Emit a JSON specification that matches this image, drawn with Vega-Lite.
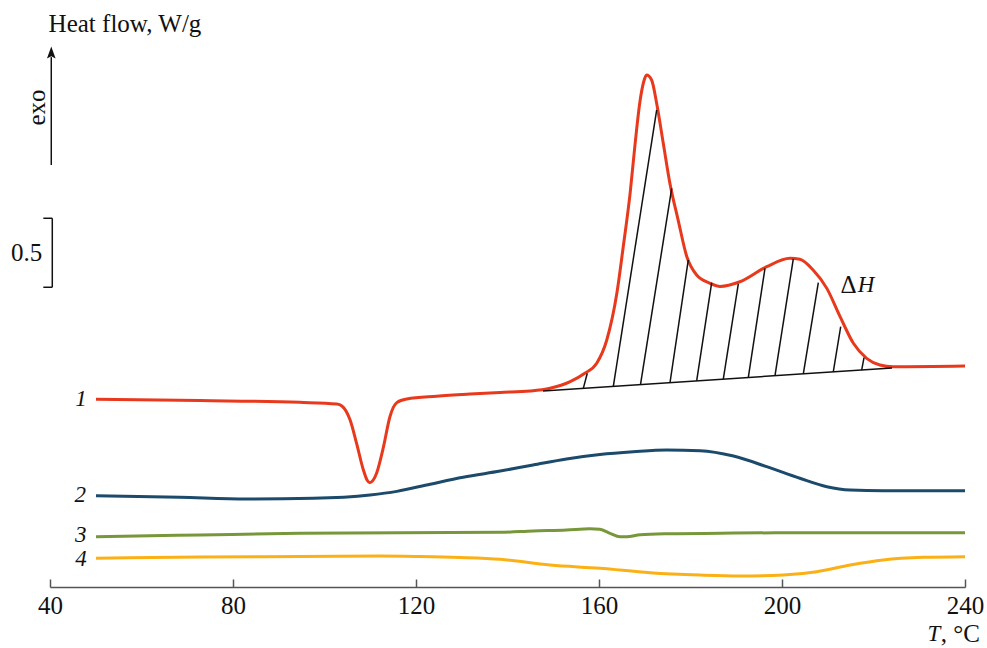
{
  "$schema": "https://vega.github.io/schema/vega-lite/v6.json",
  "width": 915,
  "height": 576,
  "autosize": {"type": "none"},
  "padding": {"left": 50, "top": 11, "right": 22, "bottom": 61},
  "background": "white",
  "config": {"view": {"stroke": null}, "font": "Liberation Serif"},
  "datasets": {
    "curves": [
      {"T":50.05,"v":1.360,"c":"1"},{"T":72.8,"v":1.351,"c":"1"},{"T":94.6,"v":1.338,"c":"1"},{"T":102.7,"v":1.326,"c":"1"},{"T":103.8,"v":1.312,"c":"1"},{"T":105.6,"v":1.210,"c":"1"},{"T":107.0,"v":1.043,"c":"1"},{"T":108.5,"v":0.848,"c":"1"},{"T":109.3,"v":0.775,"c":"1"},{"T":109.9,"v":0.756,"c":"1"},{"T":110.6,"v":0.772,"c":"1"},{"T":111.4,"v":0.826,"c":"1"},{"T":112.9,"v":1.017,"c":"1"},{"T":114.3,"v":1.234,"c":"1"},{"T":115.8,"v":1.336,"c":"1"},{"T":118.0,"v":1.362,"c":"1"},{"T":124.5,"v":1.382,"c":"1"},{"T":131.8,"v":1.398,"c":"1"},{"T":138.4,"v":1.410,"c":"1"},{"T":144.9,"v":1.420,"c":"1"},{"T":149.3,"v":1.440,"c":"1"},{"T":153.7,"v":1.488,"c":"1"},{"T":156.9,"v":1.549,"c":"1"},{"T":159.5,"v":1.621,"c":"1"},{"T":161.7,"v":1.790,"c":"1"},{"T":163.9,"v":2.128,"c":"1"},{"T":165.3,"v":2.466,"c":"1"},{"T":166.8,"v":2.853,"c":"1"},{"T":167.9,"v":3.215,"c":"1"},{"T":169.0,"v":3.529,"c":"1"},{"T":169.8,"v":3.665,"c":"1"},{"T":170.4,"v":3.710,"c":"1"},{"T":171.5,"v":3.674,"c":"1"},{"T":172.6,"v":3.505,"c":"1"},{"T":174.05,"v":3.215,"c":"1"},{"T":175.5,"v":2.925,"c":"1"},{"T":177.3,"v":2.659,"c":"1"},{"T":179.2,"v":2.393,"c":"1"},{"T":181.35,"v":2.261,"c":"1"},{"T":184.3,"v":2.201,"c":"1"},{"T":186.45,"v":2.178,"c":"1"},{"T":190.8,"v":2.212,"c":"1"},{"T":196.65,"v":2.321,"c":"1"},{"T":201.75,"v":2.382,"c":"1"},{"T":203.9,"v":2.375,"c":"1"},{"T":206.8,"v":2.297,"c":"1"},{"T":209.8,"v":2.164,"c":"1"},{"T":212.7,"v":1.959,"c":"1"},{"T":215.6,"v":1.766,"c":"1"},{"T":218.5,"v":1.657,"c":"1"},{"T":221.4,"v":1.609,"c":"1"},{"T":224.3,"v":1.596,"c":"1"},{"T":240,"v":1.601,"c":"1"},
      {"T":50.05,"v":0.662,"c":"2"},{"T":68.4,"v":0.650,"c":"2"},{"T":83.0,"v":0.638,"c":"2"},{"T":97.55,"v":0.643,"c":"2"},{"T":109.95,"v":0.667,"c":"2"},{"T":115.8,"v":0.693,"c":"2"},{"T":123.1,"v":0.745,"c":"2"},{"T":130.3,"v":0.795,"c":"2"},{"T":138.4,"v":0.840,"c":"2"},{"T":145.6,"v":0.884,"c":"2"},{"T":152.9,"v":0.928,"c":"2"},{"T":160.2,"v":0.960,"c":"2"},{"T":167.5,"v":0.980,"c":"2"},{"T":174.8,"v":0.993,"c":"2"},{"T":182.1,"v":0.988,"c":"2"},{"T":189.4,"v":0.949,"c":"2"},{"T":196.65,"v":0.872,"c":"2"},{"T":203.9,"v":0.788,"c":"2"},{"T":209.8,"v":0.727,"c":"2"},{"T":214.9,"v":0.703,"c":"2"},{"T":222.1,"v":0.698,"c":"2"},{"T":240,"v":0.698,"c":"2"},
      {"T":50.05,"v":0.364,"c":"3"},{"T":72.8,"v":0.377,"c":"3"},{"T":94.6,"v":0.389,"c":"3"},{"T":138.4,"v":0.396,"c":"3"},{"T":145.6,"v":0.406,"c":"3"},{"T":152.9,"v":0.413,"c":"3"},{"T":158.0,"v":0.422,"c":"3"},{"T":160.2,"v":0.418,"c":"3"},{"T":162.4,"v":0.389,"c":"3"},{"T":164.6,"v":0.364,"c":"3"},{"T":166.05,"v":0.364,"c":"3"},{"T":169.0,"v":0.379,"c":"3"},{"T":174.8,"v":0.386,"c":"3"},{"T":189.4,"v":0.391,"c":"3"},{"T":203.9,"v":0.393,"c":"3"},{"T":240,"v":0.393,"c":"3"},
      {"T":50.05,"v":0.208,"c":"4"},{"T":72.8,"v":0.217,"c":"4"},{"T":94.6,"v":0.221,"c":"4"},{"T":112.1,"v":0.225,"c":"4"},{"T":120.9,"v":0.221,"c":"4"},{"T":129.6,"v":0.214,"c":"4"},{"T":138.4,"v":0.201,"c":"4"},{"T":149.3,"v":0.159,"c":"4"},{"T":160.2,"v":0.136,"c":"4"},{"T":171.15,"v":0.104,"c":"4"},{"T":182.1,"v":0.087,"c":"4"},{"T":190.8,"v":0.080,"c":"4"},{"T":200.3,"v":0.087,"c":"4"},{"T":207.6,"v":0.111,"c":"4"},{"T":214.9,"v":0.159,"c":"4"},{"T":222.1,"v":0.196,"c":"4"},{"T":230.9,"v":0.215,"c":"4"},{"T":240,"v":0.220,"c":"4"}
    ],
    "segments": [
      {"x1":147.76,"y1":1.420,"x2":224.04,"y2":1.587},
      {"x1":156.57,"y1":1.439,"x2":157.44,"y2":1.549},
      {"x1":163.13,"y1":1.454,"x2":172.61,"y2":3.457},
      {"x1":169.07,"y1":1.467,"x2":175.89,"y2":2.889},
      {"x1":175.52,"y1":1.481,"x2":179.52,"y2":2.370},
      {"x1":181.35,"y1":1.494,"x2":184.63,"y2":2.205},
      {"x1":187.17,"y1":1.506,"x2":190.45,"y2":2.196},
      {"x1":192.63,"y1":1.518,"x2":196.28,"y2":2.309},
      {"x1":198.47,"y1":1.531,"x2":202.47,"y2":2.377},
      {"x1":204.66,"y1":1.544,"x2":207.94,"y2":2.205},
      {"x1":211.21,"y1":1.559,"x2":212.83,"y2":1.886},
      {"x1":217.42,"y1":1.572,"x2":217.92,"y2":1.662},
      {"x1":40.28,"y1":3.058,"x2":40.28,"y2":3.84},
      {"x1":40.50,"y1":2.172,"x2":40.50,"y2":2.672},
      {"x1":38.54,"y1":2.672,"x2":40.50,"y2":2.672},
      {"x1":38.54,"y1":2.172,"x2":40.50,"y2":2.172}
    ],
    "italicLabels": [
      {"x":46.78,"y":1.365,"t":"1"},{"x":46.62,"y":0.669,"t":"2"},{"x":46.7,"y":0.378,"t":"3"},{"x":46.8,"y":0.202,"t":"4"},
      {"x":218.36,"y":2.185,"t":"H"},{"x":233.2,"y":-0.337,"t":"T"}
    ],
    "plainLabels": [
      {"x":214.53,"y":2.185,"t":"Δ"},{"x":34.91,"y":2.418,"t":"0.5"},{"x":238.96,"y":-0.337,"t":", °C"},{"x":56.39,"y":4.080,"t":"Heat flow, W/g"}
    ],
    "exo": [{"x":37.05,"y":3.475,"t":"exo"}],
    "arrowhead": [{"x":40.28,"y":3.873}]
  },
  "layer": [
    {
      "data": {"name": "curves"},
      "mark": {"type": "line", "interpolate": "monotone", "strokeWidth": 3},
      "encoding": {
        "x": {"field": "T", "type": "quantitative", "scale": {"domain": [40, 240], "nice": false, "zero": false},
          "axis": {"values": [40, 80, 120, 160, 200, 240], "title": null, "grid": false, "domainColor": "#555555", "domainWidth": 1.5, "tickColor": "#555555", "tickWidth": 1.5, "tickSize": -8, "labelPadding": 14, "labelFont": "Liberation Serif", "labelFontSize": 25, "labelColor": "#111111", "labelFlush": false, "labelOverlap": false}},
        "y": {"field": "v", "type": "quantitative", "scale": {"domain": [0, 4.174], "nice": false, "zero": false}, "axis": null},
        "color": {"field": "c", "type": "nominal", "scale": {"domain": ["1","2","3","4"], "range": ["#e8391c", "#1b4a6b", "#77973a", "#fbb116"]}, "legend": null}
      }
    },
    {
      "data": {"name": "segments"},
      "mark": {"type": "rule", "color": "#111111", "strokeWidth": 1.5},
      "encoding": {
        "x": {"field": "x1", "type": "quantitative"},
        "y": {"field": "y1", "type": "quantitative"},
        "x2": {"field": "x2"},
        "y2": {"field": "y2"}
      }
    },
    {
      "data": {"name": "arrowhead"},
      "mark": {"type": "point", "shape": "M0,-1L0.72,1L0,0.6L-0.72,1Z", "filled": true, "color": "#111111", "size": 144, "opacity": 1},
      "encoding": {
        "x": {"field": "x", "type": "quantitative"},
        "y": {"field": "y", "type": "quantitative"}
      }
    },
    {
      "data": {"name": "italicLabels"},
      "mark": {"type": "text", "font": "Liberation Serif", "fontStyle": "italic", "fontSize": 23, "align": "center", "baseline": "middle", "color": "#111111"},
      "encoding": {
        "x": {"field": "x", "type": "quantitative"},
        "y": {"field": "y", "type": "quantitative"},
        "text": {"field": "t"}
      }
    },
    {
      "data": {"name": "plainLabels"},
      "mark": {"type": "text", "font": "Liberation Serif", "fontSize": 25, "align": "center", "baseline": "middle", "color": "#111111"},
      "encoding": {
        "x": {"field": "x", "type": "quantitative"},
        "y": {"field": "y", "type": "quantitative"},
        "text": {"field": "t"}
      }
    },
    {
      "data": {"name": "exo"},
      "mark": {"type": "text", "font": "Liberation Serif", "fontSize": 25, "align": "center", "baseline": "middle", "angle": 270, "color": "#111111"},
      "encoding": {
        "x": {"field": "x", "type": "quantitative"},
        "y": {"field": "y", "type": "quantitative"},
        "text": {"field": "t"}
      }
    }
  ]
}
